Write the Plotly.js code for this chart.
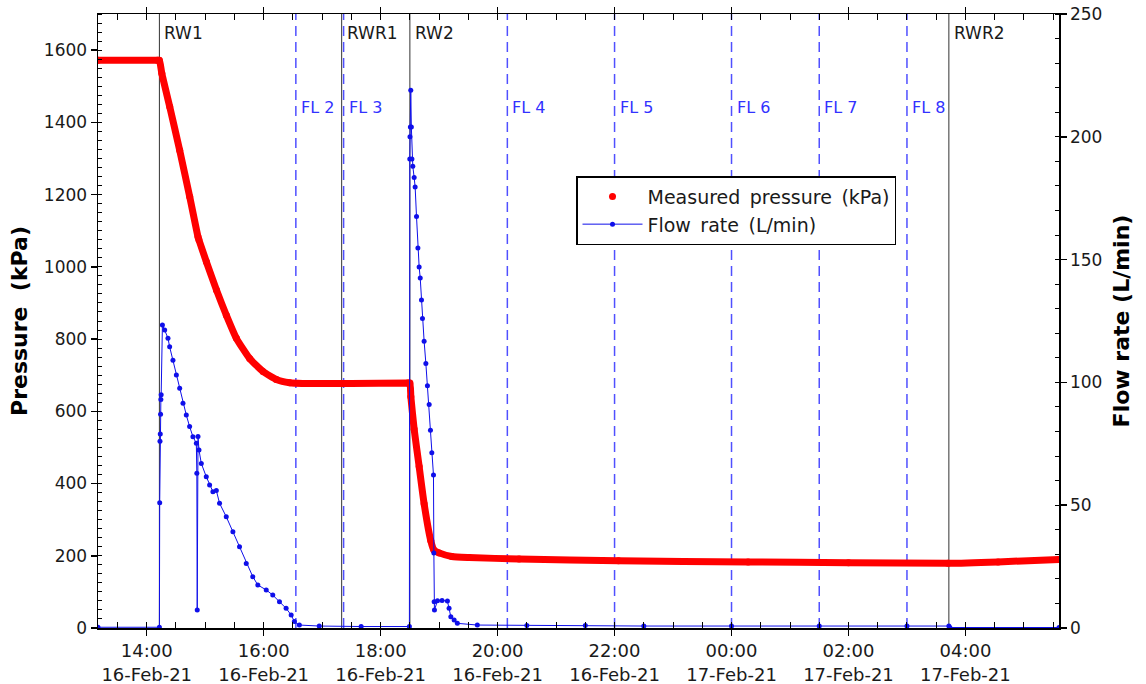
<!DOCTYPE html>
<html>
<head>
<meta charset="utf-8">
<script src="https://cdn.plot.ly/plotly-3.0.1.min.js"></script>
<style>
  html, body { margin: 0; padding: 0; background: #fff; }
  #chart { width: 1146px; height: 684px; }
</style>
</head>
<body>
<div id="chart"></div>
<script>
// Pressure record (kPa)
const pressureTime = [
  '2021-02-16 13:10:00', '2021-02-16 14:11:00', '2021-02-16 14:13:00', '2021-02-16 14:15:30',
  '2021-02-16 14:23:36', '2021-02-16 14:33:48', '2021-02-16 14:44:06', '2021-02-16 14:52:36',
  '2021-02-16 14:53:30', '2021-02-16 15:01:12', '2021-02-16 15:11:30', '2021-02-16 15:21:42',
  '2021-02-16 15:32:00', '2021-02-16 15:45:36', '2021-02-16 15:59:18', '2021-02-16 16:13:00',
  '2021-02-16 16:26:42', '2021-02-16 16:40:00', '2021-02-16 17:30:00', '2021-02-16 18:28:00',
  '2021-02-16 18:30:00', '2021-02-16 18:31:00', '2021-02-16 18:34:24', '2021-02-16 18:39:30',
  '2021-02-16 18:44:36', '2021-02-16 18:51:24', '2021-02-16 18:54:36', '2021-02-16 19:00:00',
  '2021-02-16 19:13:00', '2021-02-16 19:30:42', '2021-02-16 20:22:00', '2021-02-16 22:04:00',
  '2021-02-17 00:17:00', '2021-02-17 02:00:00', '2021-02-17 03:42:00', '2021-02-17 04:33:30',
  '2021-02-17 05:36:00'
];
const pressureKPa = [
  1572, 1572, 1572, 1535,
  1443, 1323, 1194, 1083,
  1075, 1014, 936, 866,
  802, 746, 710, 688,
  679, 677, 677, 678,
  678, 640, 550, 447,
  344, 242, 216, 208,
  198, 195, 191, 186,
  183, 181, 179, 183,
  190
];

// Flow rate record (L/min)
const flowTime = [
  '2021-02-16 13:10:00', '2021-02-16 14:13:00', '2021-02-16 14:13:18', '2021-02-16 14:13:36',
  '2021-02-16 14:13:54', '2021-02-16 14:14:12', '2021-02-16 14:14:30', '2021-02-16 14:14:48',
  '2021-02-16 14:16:06', '2021-02-16 14:18:24', '2021-02-16 14:21:48', '2021-02-16 14:23:30',
  '2021-02-16 14:26:54', '2021-02-16 14:30:24', '2021-02-16 14:33:48', '2021-02-16 14:37:12',
  '2021-02-16 14:40:36', '2021-02-16 14:44:00', '2021-02-16 14:47:24', '2021-02-16 14:50:54',
  '2021-02-16 14:51:24', '2021-02-16 14:51:48', '2021-02-16 14:52:36', '2021-02-16 14:53:36',
  '2021-02-16 14:56:00', '2021-02-16 15:01:06', '2021-02-16 15:04:30', '2021-02-16 15:07:54',
  '2021-02-16 15:11:24', '2021-02-16 15:14:42', '2021-02-16 15:21:36', '2021-02-16 15:28:24',
  '2021-02-16 15:35:12', '2021-02-16 15:42:06', '2021-02-16 15:48:48', '2021-02-16 15:54:00',
  '2021-02-16 16:02:36', '2021-02-16 16:09:18', '2021-02-16 16:16:12', '2021-02-16 16:23:00',
  '2021-02-16 16:28:12', '2021-02-16 16:31:30', '2021-02-16 16:36:36', '2021-02-16 16:57:00',
  '2021-02-16 17:40:00', '2021-02-16 18:29:30',
  '2021-02-16 18:29:54', '2021-02-16 18:30:06', '2021-02-16 18:30:30', '2021-02-16 18:30:54',
  '2021-02-16 18:31:30', '2021-02-16 18:32:06', '2021-02-16 18:33:00', '2021-02-16 18:34:24',
  '2021-02-16 18:35:24', '2021-02-16 18:36:48', '2021-02-16 18:38:12', '2021-02-16 18:39:30',
  '2021-02-16 18:40:36', '2021-02-16 18:41:54', '2021-02-16 18:42:54', '2021-02-16 18:44:36',
  '2021-02-16 18:46:24', '2021-02-16 18:48:00', '2021-02-16 18:49:48', '2021-02-16 18:51:06',
  '2021-02-16 18:52:30', '2021-02-16 18:54:12', '2021-02-16 18:54:36', '2021-02-16 18:54:54',
  '2021-02-16 18:55:12', '2021-02-16 18:58:18', '2021-02-16 19:03:00', '2021-02-16 19:08:30',
  '2021-02-16 19:10:12', '2021-02-16 19:12:00', '2021-02-16 19:15:24', '2021-02-16 19:18:42',
  '2021-02-16 19:39:12', '2021-02-16 20:30:00', '2021-02-16 21:30:00', '2021-02-16 22:30:00',
  '2021-02-17 00:00:00', '2021-02-17 01:30:00', '2021-02-17 03:00:00', '2021-02-17 03:43:00',
  '2021-02-17 03:44:00', '2021-02-17 05:36:00'
];
const flowLmin = [
  0.3, 0.3, 51, 76,
  79, 87, 93, 95,
  123.4, 121.3, 118, 114.5,
  109, 103, 97.6, 91.5,
  86.7, 82, 77.9, 75.2,
  63, 7.3, 78, 72.5,
  67, 61.6, 58.2, 55.5,
  56, 50.8, 45.3, 39.2,
  33.1, 26.3, 20.9, 17.5,
  15.5, 13.4, 10.7, 8,
  5.3, 2.6, 1.2, 0.8,
  0.6, 0.6,
  191, 200, 204, 219,
  204, 191, 188, 183.4,
  179.6, 167.5, 154.7, 147,
  142.5, 133.5, 126, 116.8,
  107.7, 98.6, 91, 80.5,
  71.4, 62.3, 30.5, 10.7,
  7.3, 11.1, 11.2, 11.0,
  8, 4.6, 3.3, 1.9,
  1.2, 1.0, 1.0, 0.8,
  0.8, 0.8, 0.8, 0.8,
  0.2, 0.2
];

// Test stages (solid markers) and flow-level steps (dashed markers)
const stageNames = ['RW1', 'RWR1', 'RW2', 'RWR2'];
const stageTimes = ['2021-02-16 14:13:00', '2021-02-16 17:20:00', '2021-02-16 18:30:00', '2021-02-17 03:43:00'];
const levelNames = ['FL 2', 'FL 3', 'FL 4', 'FL 5', 'FL 6', 'FL 7', 'FL 8'];
const levelTimes = ['2021-02-16 16:33:00', '2021-02-16 17:22:00', '2021-02-16 20:10:00', '2021-02-16 22:00:00',
                    '2021-02-17 00:00:00', '2021-02-17 01:30:00', '2021-02-17 03:00:00'];

// Time axis ticks
const xTickVals = ['2021-02-16 14:00', '2021-02-16 16:00', '2021-02-16 18:00', '2021-02-16 20:00',
                   '2021-02-16 22:00', '2021-02-17 00:00', '2021-02-17 02:00', '2021-02-17 04:00'];
const xTickText = ['14:00<br>16-Feb-21', '16:00<br>16-Feb-21', '18:00<br>16-Feb-21', '20:00<br>16-Feb-21',
                   '22:00<br>16-Feb-21', '00:00<br>17-Feb-21', '02:00<br>17-Feb-21', '04:00<br>17-Feb-21'];

const RED = '#ff0000';
const BLUE = '#0f0fea';
const DASHBLUE = 'rgb(80,80,255)';
const INK = '#1a1a1a';
const WIDE = '\u2002';

const traces = [
  {
    x: pressureTime, y: pressureKPa, type: 'scatter', mode: 'lines',
    line: {color: RED, width: 7, shape: 'spline', smoothing: 0.5}, showlegend: false, hoverinfo: 'skip'
  },
  {
    x: pressureTime, y: pressureKPa, type: 'scatter', mode: 'markers',
    name: ['Measured', 'pressure', '(kPa)'].join(WIDE),
    marker: {color: RED, size: 7}
  },
  {
    x: flowTime, y: flowLmin, type: 'scatter', mode: 'lines+markers', yaxis: 'y2',
    name: ['Flow', 'rate', '(L/min)'].join(WIDE),
    line: {color: BLUE, width: 1},
    marker: {color: BLUE, size: 5}
  }
];

const shapes = [];
const annotations = [];
stageTimes.forEach((t, i) => {
  shapes.push({type: 'line', xref: 'x', yref: 'paper', x0: t, x1: t, y0: 0, y1: 1,
               line: {color: '#333', width: 1}, layer: 'below'});
  annotations.push({xref: 'x', yref: 'paper', x: t, y: 0.969, xanchor: 'left', yanchor: 'middle',
                    xshift: 3, text: stageNames[i], showarrow: false,
                    font: {size: 17, color: INK}});
});
levelTimes.forEach((t, i) => {
  shapes.push({type: 'line', xref: 'x', yref: 'paper', x0: t, x1: t, y0: 0, y1: 1,
               line: {color: DASHBLUE, width: 1.5, dash: '10px,6px'}, layer: 'below'});
  annotations.push({xref: 'x', yref: 'paper', x: t, y: 0.8485, xanchor: 'left', yanchor: 'middle',
                    xshift: 3, text: levelNames[i], showarrow: false,
                    font: {size: 16, color: 'rgb(50,50,255)'}});
});

const axisCommon = {
  showline: true, linecolor: '#000', linewidth: 1.5,
  ticks: 'outside', ticklen: 6, tickwidth: 1.5, tickcolor: '#000',
  showgrid: false, zeroline: false,
  tickfont: {size: 17, color: INK}
};

const layout = {
  width: 1146, height: 684,
  margin: {l: 98, r: 87, t: 14, b: 56, pad: 0},
  paper_bgcolor: '#fff', plot_bgcolor: '#fff',
  font: {family: 'DejaVu Sans, Arial, sans-serif', color: INK},
  xaxis: Object.assign({}, axisCommon, {
    type: 'date',
    range: ['2021-02-16 13:10:00', '2021-02-17 05:36:00'],
    tickmode: 'array', tickvals: xTickVals, ticktext: xTickText,
    tickfont: {size: 18, color: INK},
    mirror: 'allticks',
    minor: {tickmode: 'linear', tick0: '2021-02-16 00:00', dtick: 1800000,
            ticks: 'inside', ticklen: 4, tickwidth: 1, tickcolor: '#000', showgrid: false}
  }),
  yaxis: Object.assign({}, axisCommon, {
    range: [0, 1700], dtick: 200, tick0: 0,
    minor: {dtick: 25, ticks: 'inside', ticklen: 4, tickwidth: 1, tickcolor: '#000', showgrid: false},
    title: {text: '<b>Pressure  (kPa)</b>', font: {size: 22, color: '#000'}, standoff: 10}
  }),
  yaxis2: Object.assign({}, axisCommon, {
    overlaying: 'y', side: 'right',
    range: [0, 250], dtick: 50, tick0: 0,
    minor: {dtick: 10, ticks: 'inside', ticklen: 4, tickwidth: 1, tickcolor: '#000', showgrid: false},
    title: {text: '<b>Flow rate (L/min)</b>', font: {size: 22, color: '#000'}, standoff: 12}
  }),
  legend: {
    x: 0.4974, y: 0.736, xanchor: 'left', yanchor: 'top',
    bgcolor: '#fff', bordercolor: '#000', borderwidth: 1.5,
    font: {size: 19, color: INK}, itemwidth: 60, tracegroupgap: 0
  },
  shapes: shapes,
  annotations: annotations,
  showlegend: true
};

Plotly.newPlot('chart', traces, layout, {displayModeBar: false, staticPlot: true});
</script>
</body>
</html>
